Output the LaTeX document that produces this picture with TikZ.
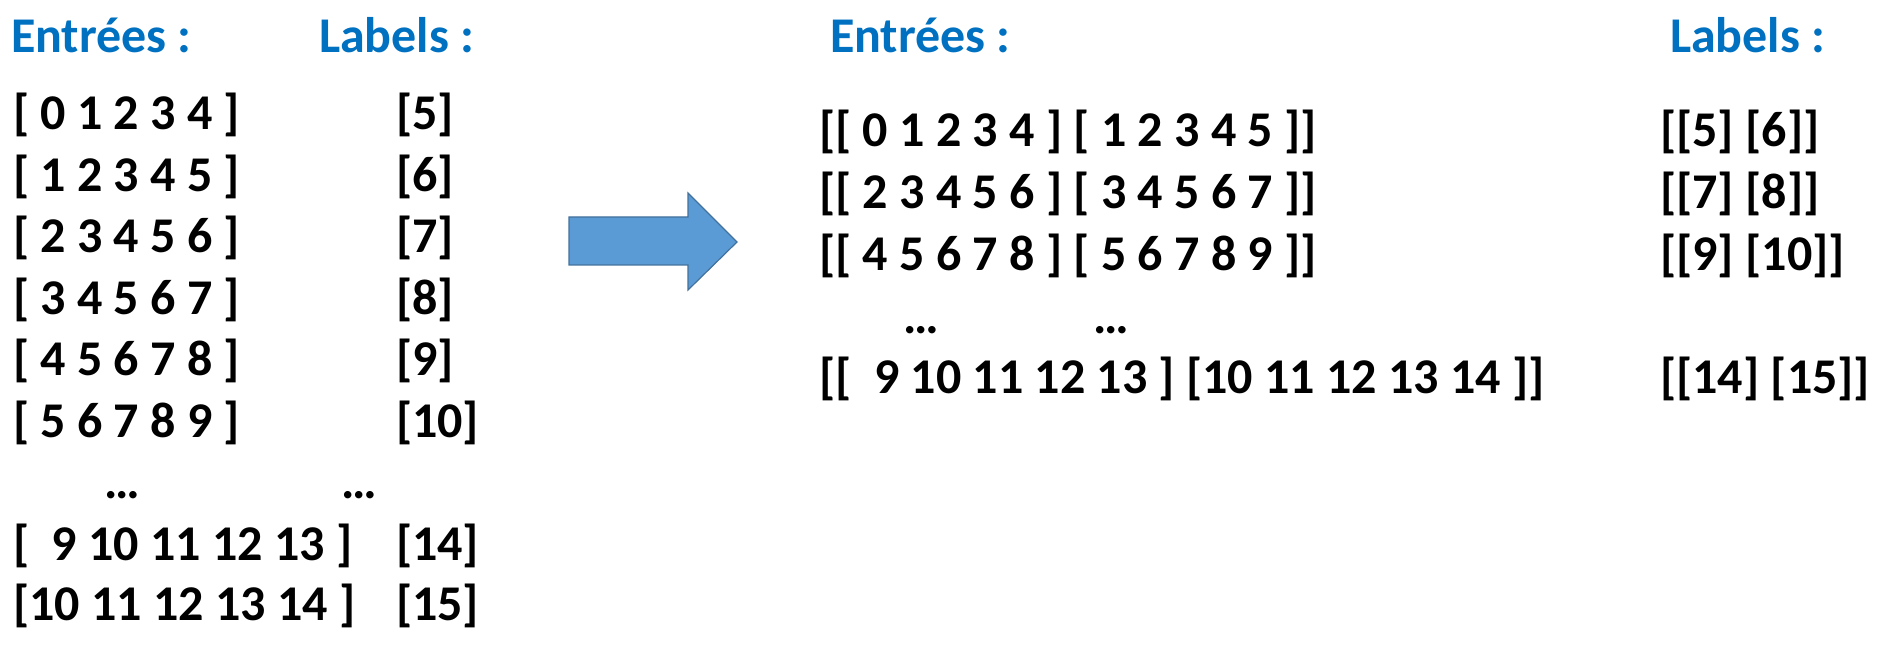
\documentclass[tikz,border=0pt]{standalone}
\usepackage{fontspec}
\setmainfont{Carlito}
\definecolor{hdrblue}{HTML}{0070C0}
\definecolor{arrfill}{HTML}{5B9BD5}
\definecolor{arrline}{HTML}{41719C}
\begin{document}
\begin{tikzpicture}[x=1pt,y=-1pt,
  txt/.style={anchor=base west,inner sep=0pt,outer sep=0pt,font=\fontsize{50}{60}\selectfont\bfseries},
  hdr/.style={txt,text=hdrblue}]
\useasboundingbox (0,0) rectangle (1888,655);
% left block
\node[hdr] (h1) at (11,53) {Entrées :};
\node[hdr] (h2) at (319,53) {Labels :};
\node[txt] (a1) at (13,130) {[ 0 1 2 3 4 ]};
\node[txt] (a2) at (13,192) {[ 1 2 3 4 5 ]};
\node[txt] (a3) at (13,253) {[ 2 3 4 5 6 ]};
\node[txt] (a4) at (13,314) {[ 3 4 5 6 7 ]};
\node[txt] (a5) at (13,375) {[ 4 5 6 7 8 ]};
\node[txt] (a6) at (13,437) {[ 5 6 7 8 9 ]};
\node[txt] (ad) at (104,498) {…};
\node[txt] (a7) at (13,560) {[\ \ 9 10 11 12 13 ]};
\node[txt] (a8) at (13,620) {[10 11 12 13 14 ]};
\node[txt] (b1) at (396,130) {[5]};
\node[txt] (b2) at (396,192) {[6]};
\node[txt] (b3) at (396,253) {[7]};
\node[txt] (b4) at (396,314) {[8]};
\node[txt] (b5) at (396,375) {[9]};
\node[txt] (b6) at (396,437) {[10]};
\node[txt] (bd) at (341,498) {…};
\node[txt] (b7) at (396,560) {[14]};
\node[txt] (b8) at (396,620) {[15]};
% arrow
\filldraw[fill=arrfill,draw=arrline,line width=1.2pt,line join=miter]
  (569,217) -- (688,217) -- (688,193) -- (737,242) -- (688,290) -- (688,265) -- (569,265) -- cycle;
% right block
\node[hdr] (h3) at (830,53) {Entrées :};
\node[hdr] (h4) at (1670,53) {Labels :};
\node[txt] (c1) at (819,147) {[[ 0 1 2 3 4 ] [ 1 2 3 4 5 ]]};
\node[txt] (c2) at (819,209) {[[ 2 3 4 5 6 ] [ 3 4 5 6 7 ]]};
\node[txt] (c3) at (819,270) {[[ 4 5 6 7 8 ] [ 5 6 7 8 9 ]]};
\node[txt] (cd1) at (903,333) {…};
\node[txt] (cd2) at (1093,333) {…};
\node[txt] (c4) at (819,393) {[[\ \ 9 10 11 12 13 ] [10 11 12 13 14 ]]};
\node[txt] (d1) at (1660,147) {[[5] [6]]};
\node[txt] (d2) at (1660,209) {[[7] [8]]};
\node[txt] (d3) at (1660,270) {[[9] [10]]};
\node[txt] (d4) at (1660,393) {[[14] [15]]};
\end{tikzpicture}
\end{document}
